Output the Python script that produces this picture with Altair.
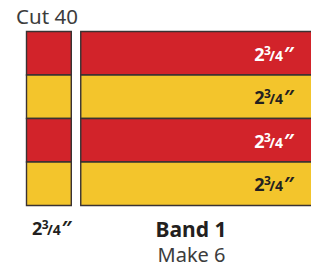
import altair as alt
import pandas as pd

# ---- data (inches) ----
ROW_FABRICS = ["red", "yellow", "red", "yellow"]   # band 1, top to bottom
STRIP_IN = 2.75                                   # cut width / row height
GAP_IN = 0.58                                     # gap between cut piece and band
BAND_END_IN = 19.0                                # band continues past the frame
CUT_COUNT = 40
BAND_NAME = "Band 1"
MAKE_COUNT = 6
SIZE_WHOLE, SIZE_NUM, SIZE_FRAC, SIZE_UNIT = "2", "3", "/4", "\u2033"

FABRIC_COLORS = {"red": "#D2232A", "yellow": "#F3C52C"}
FONT = "Noto Sans"
INK = "#231F20"

# ---- rectangles ----
rows = []
for i, fab in enumerate(ROW_FABRICS):
    y0, y1 = i * STRIP_IN, (i + 1) * STRIP_IN
    rows.append({"x": 0.0, "x2": STRIP_IN, "y": y0, "y2": y1, "fabric": fab})
    rows.append({"x": STRIP_IN + GAP_IN, "x2": BAND_END_IN, "y": y0, "y2": y1, "fabric": fab})
rects = pd.DataFrame(rows)

# ---- size labels ----
lab = []
for i, fab in enumerate(ROW_FABRICS):
    lab.append({"x": 13.98, "y": (i + 0.5) * STRIP_IN,
                "c": "#FFFFFF" if fab == "red" else INK})
lab.append({"x": 0.34, "y": 4 * STRIP_IN + 1.37, "c": INK})
labels = pd.DataFrame(lab)

xs = alt.Scale(domain=[-1.1357, 17.465], nice=False, zero=False)
ys = alt.Scale(domain=[-1.4855, 14.823], nice=False, zero=False, reverse=True)
X = lambda f: alt.X(f, type="quantitative", scale=xs, axis=None)
Y = lambda f: alt.Y(f, type="quantitative", scale=ys, axis=None)

rect_layer = alt.Chart(rects).mark_rect(
    stroke="#3A3232", strokeWidth=1.4, clip=True
).encode(
    x=X("x"), x2="x2", y=Y("y"), y2="y2",
    color=alt.Color("fabric:N", legend=None,
                    scale=alt.Scale(domain=list(FABRIC_COLORS),
                                    range=list(FABRIC_COLORS.values()))),
)

pieces = [
    (SIZE_WHOLE, 0, 0, 18),
    (SIZE_NUM, 9.8, -6, 12),
    (SIZE_FRAC, 15, 0, 14),
    (SIZE_UNIT, 29.5, 0, 20),
]
label_layers = []
for txt, dx, dy, fs in pieces:
    label_layers.append(
        alt.Chart(labels).mark_text(
            text=txt, dx=dx, dy=7.5 + dy, fontSize=fs, fontWeight="bold",
            font=FONT, align="left", baseline="alphabetic",
        ).encode(x=X("x"), y=Y("y"), color=alt.Color("c:N", scale=None))
    )

titles = pd.DataFrame([
    {"t": f"Cut {CUT_COUNT}", "x": 1.26, "y": -0.474, "w": "normal", "s": 20.5, "c": "#3C3C3C"},
    {"t": BAND_NAME, "x": 10.10, "y": 12.96, "w": "bold", "s": 21, "c": INK},
    {"t": f"Make {MAKE_COUNT}", "x": 10.13, "y": 14.60, "w": "normal", "s": 20, "c": "#3C3C3C"},
])
title_layers = []
for w in ["normal", "bold"]:
    title_layers.append(
        alt.Chart(titles[titles.w == w]).mark_text(
            font=FONT, fontWeight=w, align="center", baseline="alphabetic",
        ).encode(x=X("x"), y=Y("y"), text="t:N",
                 size=alt.Size("s:Q", scale=None),
                 color=alt.Color("c:N", scale=None))
    )

chart = alt.layer(rect_layer, *label_layers, *title_layers).properties(
    width=303, height=258, padding=0, autosize=alt.AutoSizeParams(type="none"),
    background="white",
).configure_view(stroke=None)

chart.save("out.html", embed_options={"renderer": "svg", "actions": False})
